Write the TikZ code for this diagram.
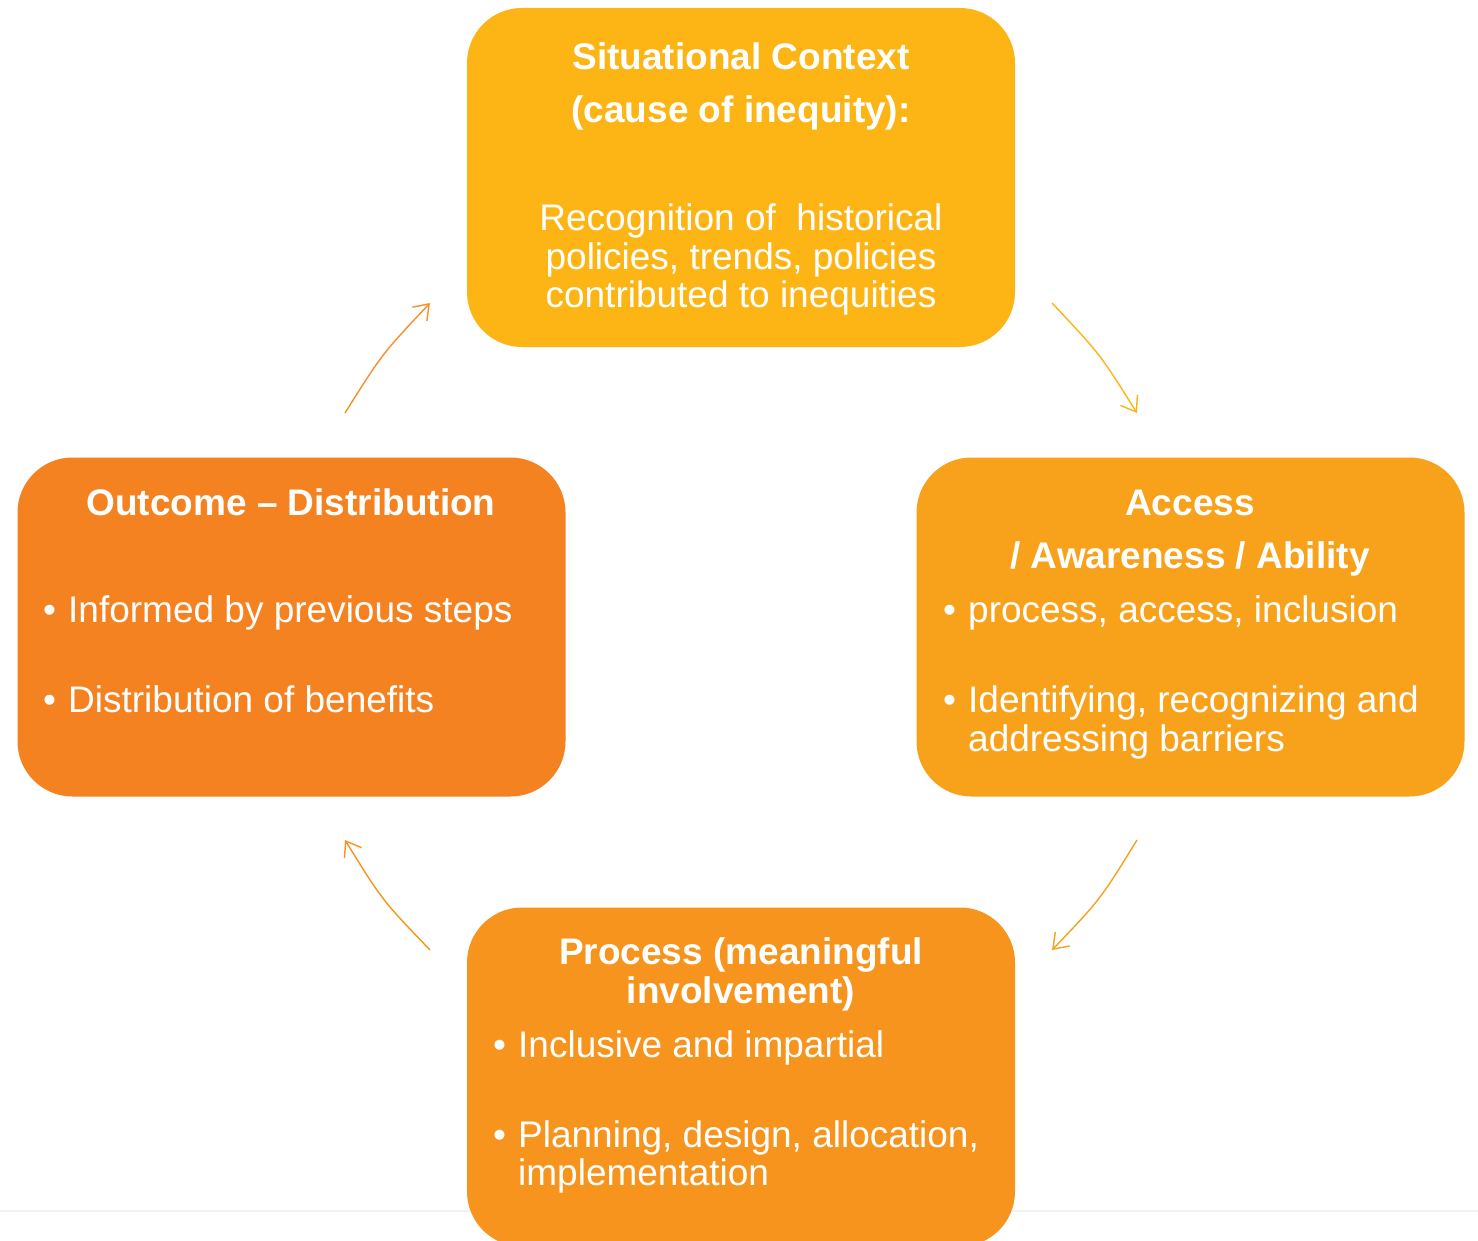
\documentclass[tikz,border=0pt]{standalone}
\usepackage{fontspec}
\setmainfont{Liberation Sans}
\usetikzlibrary{arrows.meta}
\definecolor{cTop}{HTML}{FDB515}
\definecolor{cRight}{HTML}{F8A21C}
\definecolor{cLeft}{HTML}{F58220}
\definecolor{cBottom}{HTML}{F7941D}
\definecolor{cArrOne}{HTML}{F7902A}
\definecolor{cArrTwo}{HTML}{FDB515}
\definecolor{cArrThree}{HTML}{F7A21E}
\definecolor{cArrFour}{HTML}{F7941D}
\definecolor{cRule}{HTML}{F2F2F2}
\tikzset{
  stagebox/.style={rounded corners=55pt, minimum width=548pt, minimum height=339pt, inner sep=0pt, draw=none},
  ttl/.style={inner sep=0pt, anchor=base, text=white, font=\fontsize{37}{39}\selectfont\bfseries},
  txt/.style={inner sep=0pt, anchor=base, text=white, font=\fontsize{37}{39}\selectfont},
  btxt/.style={inner sep=0pt, anchor=base west, text=white, font=\fontsize{37}{39}\selectfont},
  cyc/.style={line width=1.4pt, -{Straight Barb[length=14pt,width=20pt,line width=1.4pt]}},
}
\begin{document}
\begin{tikzpicture}[x=1pt,y=-1pt]
\useasboundingbox (0,0) rectangle (1478,1241);
\clip (0,0) rectangle (1478,1241);
\fill[white] (0,0) rectangle (1478,1241);
\draw[cRule, line width=2pt] (0,1211) -- (1478,1211);
% boxes
\node[stagebox, fill=cTop] (sit) at (741,177.5) {};
\node[stagebox, fill=cRight] (acc) at (1190.5,627) {};
\node[stagebox, fill=cLeft] (out) at (291.5,627) {};
\node[stagebox, fill=cBottom] (pro) at (741,1077) {};
% top text
\node[ttl] (sitA) at (741,70) {Situational Context};
\node[ttl] (sitB) at (741,123) {(cause of inequity):};
\node[txt] (sitC) at (741,231) {Recognition of\ \ historical};
\node[txt] (sitD) at (741,270) {policies, trends, policies};
\node[txt] (sitE) at (741,308) {contributed to inequities};
% right text
\node[ttl] (accA) at (1190,515) {Access};
\node[ttl] (accB) at (1190,568) {/ Awareness / Ability};
\node[btxt] (accC) at (943,622) {•};
\node[btxt] (accD) at (968,622) {process, access, inclusion};
\node[btxt] (accE) at (943,712) {•};
\node[btxt] (accF) at (968,712) {Identifying, recognizing and};
\node[btxt] (accG) at (968,751) {addressing barriers};
% left text
\node[ttl] (outA) at (291,515) {Outcome – Distribution};
\node[btxt] (outB) at (43,622) {•};
\node[btxt] (outC) at (68,622) {Informed by previous steps};
\node[btxt] (outD) at (43,712) {•};
\node[btxt] (outE) at (68,712) {Distribution of benefits};
% bottom text
\node[ttl] (proA) at (741,964) {Process (meaningful};
\node[ttl] (proB) at (741,1003) {involvement)};
\node[btxt] (proC) at (493,1057) {•};
\node[btxt] (proD) at (518,1057) {Inclusive and impartial};
\node[btxt] (proE) at (493,1147) {•};
\node[btxt] (proF) at (518,1147) {Planning, design, allocation,};
\node[btxt] (proG) at (518,1185) {implementation};
% cycle arrows
\coordinate (a1s) at (345,413); \coordinate (a1e) at (430,303);
\coordinate (a2s) at (1052,303); \coordinate (a2e) at (1137,413);
\coordinate (a3s) at (1137,840); \coordinate (a3e) at (1052,950);
\coordinate (a4s) at (430,950); \coordinate (a4e) at (345,840);
\draw[cyc, cArrOne] (a1s) .. controls (382,354) .. (a1e);
\draw[cyc, cArrTwo] (a2s) .. controls (1100,354) .. (a2e);
\draw[cyc, cArrThree] (a3s) .. controls (1100,900) .. (a3e);
\draw[cyc, cArrFour] (a4s) .. controls (382,900) .. (a4e);
\end{tikzpicture}
\end{document}
